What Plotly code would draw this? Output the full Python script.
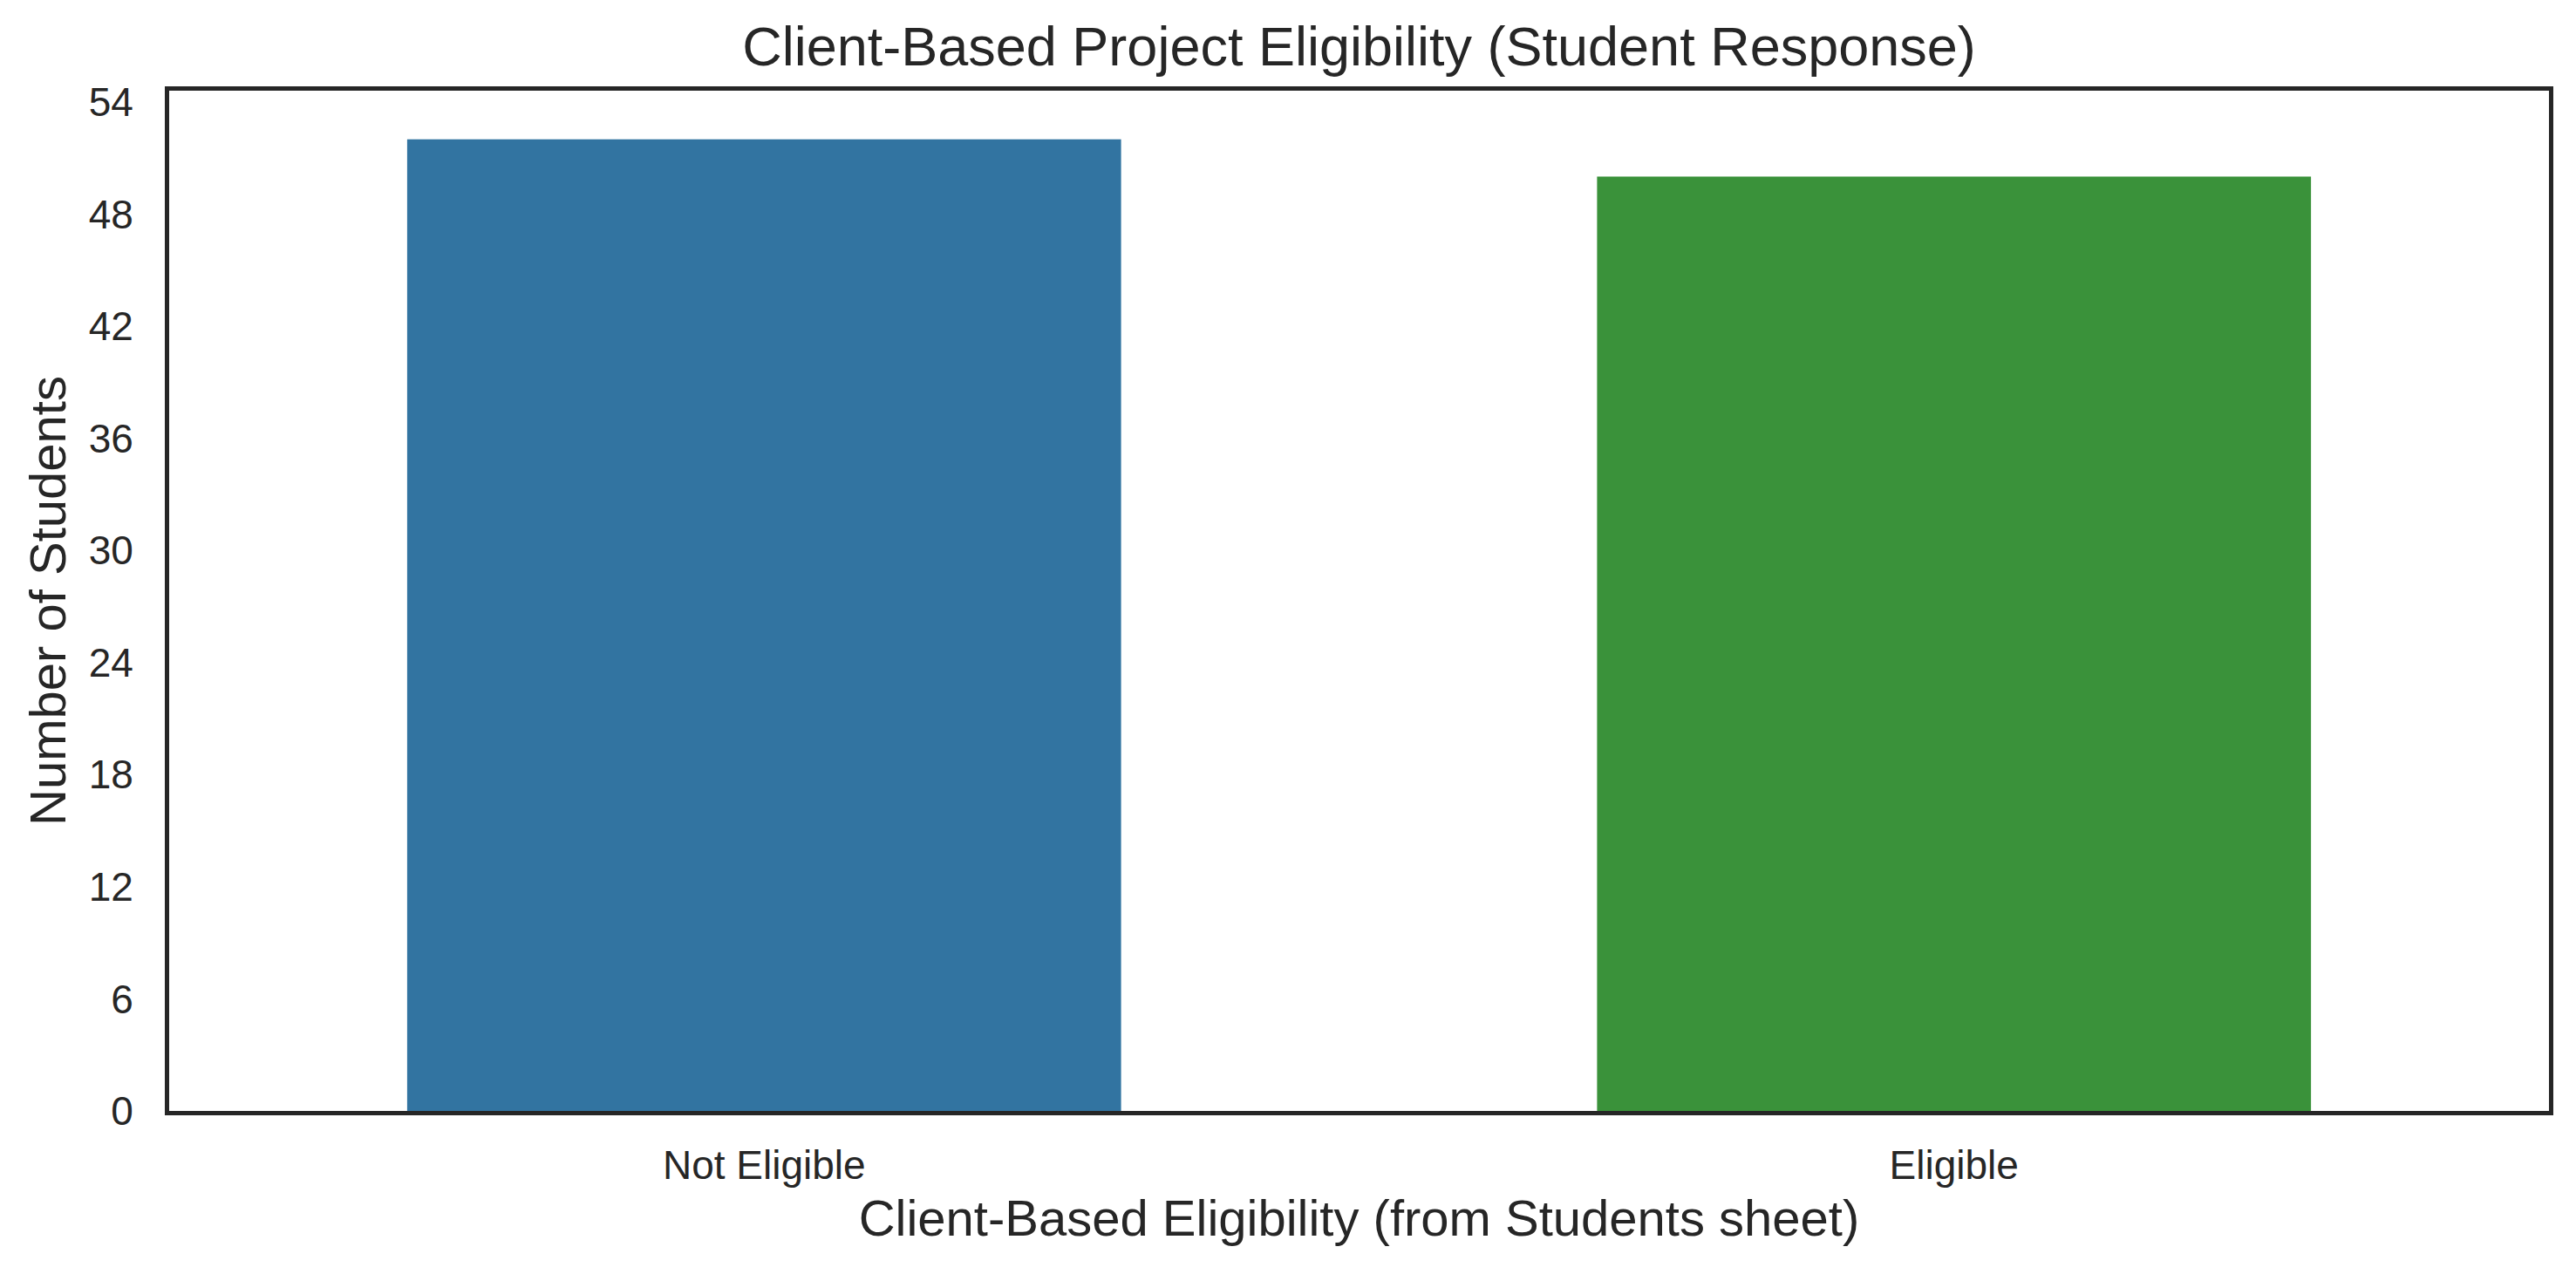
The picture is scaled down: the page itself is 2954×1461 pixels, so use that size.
import plotly.graph_objects as go

categories = ["Not Eligible", "Eligible"]
counts = [52, 50]
bar_colors = ["#3274a1", "#3a923a"]
y_ticks = [0, 6, 12, 18, 24, 30, 36, 42, 48, 54]

title_text = "Client-Based Project Eligibility (Student Response)"
x_title = "Client-Based Eligibility (from Students sheet)"
y_title = "Number of Students"

FONT = "Liberation Sans, Arial, sans-serif"
INK = "#262626"

fig = go.Figure(
    go.Bar(
        x=categories,
        y=counts,
        marker=dict(color=bar_colors, line=dict(width=0)),
        width=0.6,
    )
)

fig.update_layout(
    width=2954,
    height=1461,
    paper_bgcolor="white",
    plot_bgcolor="white",
    margin=dict(l=186, r=39, t=96, b=195, autoexpand=False),
    showlegend=False,
    font=dict(family=FONT, color=INK),
    title=dict(
        text=title_text,
        font=dict(size=63, color=INK, family=FONT),
        x=0.5,
        xref="paper",
        xanchor="center",
        y=1,
        yref="paper",
        yanchor="bottom",
        pad=dict(b=29),
    ),
)

fig.update_xaxes(
    range=[-0.5, 1.5],
    showline=True,
    linecolor=INK,
    linewidth=5,
    mirror=True,
    showgrid=False,
    zeroline=False,
    ticks="outside",
    ticklen=18,
    tickcolor="rgba(0,0,0,0)",
    tickfont=dict(size=46, color=INK, family=FONT),
    title=dict(text=x_title, font=dict(size=58, color=INK, family=FONT), standoff=17),
)

fig.update_yaxes(
    range=[0, 54.6],
    tickvals=y_ticks,
    showline=True,
    linecolor=INK,
    linewidth=5,
    mirror=True,
    showgrid=False,
    zeroline=False,
    ticks="outside",
    ticklen=27,
    tickcolor="rgba(0,0,0,0)",
    tickfont=dict(size=46, color=INK, family=FONT),
    title=dict(text=y_title, font=dict(size=58, color=INK, family=FONT), standoff=9),
)

fig.write_html("out.html")
